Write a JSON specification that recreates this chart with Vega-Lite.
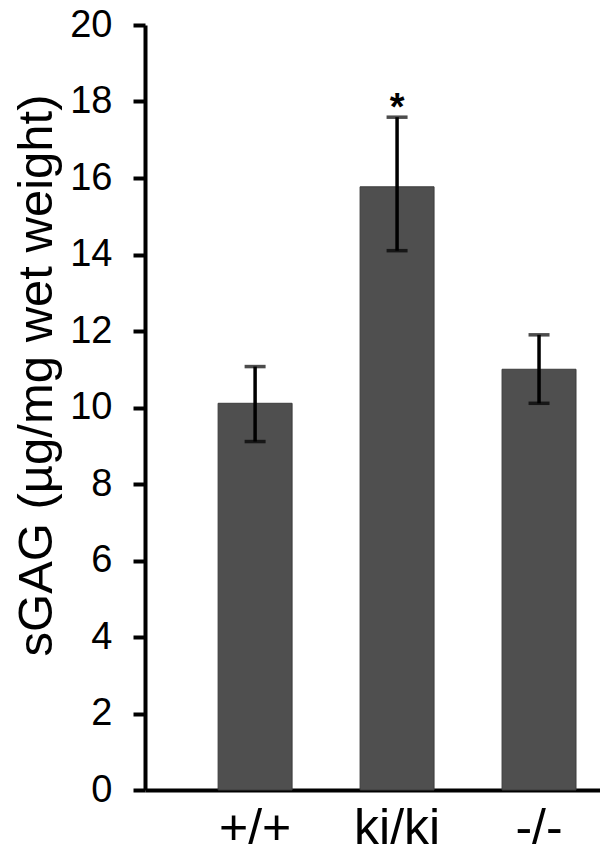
{
  "$schema": "https://vega.github.io/schema/vega-lite/v6.json",
  "autosize": {"type": "none"},
  "padding": {"left": 145, "top": 25, "right": 0, "bottom": 68},
  "width": 455,
  "height": 765,
  "background": "white",
  "config": {"view": {"stroke": null}, "font": "Liberation Sans"},
  "data": {"values": [
    {"genotype": "+/+", "mean": 10.11, "lo": 9.11, "hi": 11.07, "sig": ""},
    {"genotype": "ki/ki", "mean": 15.77, "lo": 14.10, "hi": 17.59, "sig": "*"},
    {"genotype": "-/-", "mean": 11.0, "lo": 10.11, "hi": 11.9, "sig": ""}
  ]},
  "encoding": {
    "x": {
      "field": "genotype", "type": "nominal", "sort": null,
      "scale": {"paddingInner": 0.479, "paddingOuter": 0.342, "align": 0.753},
      "axis": {"title": null, "labelAngle": 0, "labelFontSize": 50, "labelColor": "black", "labelPadding": 13, "ticks": false, "domainWidth": 4, "domainColor": "black"}
    }
  },
  "layer": [
    {
      "mark": {"type": "bar", "color": "#4f4f4f", "stroke": "#3c3c3c", "strokeWidth": 1},
      "encoding": {
        "y": {
          "field": "mean", "type": "quantitative", "title": "sGAG (µg/mg wet weight)",
          "scale": {"domain": [0, 20], "nice": false},
          "axis": {"values": [0,2,4,6,8,10,12,14,16,18,20], "grid": false,
            "domainWidth": 4, "domainColor": "black", "tickWidth": 4, "tickSize": 12, "tickColor": "black",
            "labelFontSize": 38, "labelColor": "black", "labelPadding": 21,
            "titleFontSize": 49, "titleFontWeight": "normal", "titleColor": "black",
            "titleX": -94, "titleY": 350, "titleBaseline": "alphabetic", "titleAngle": -90, "titleAlign": "center"}
        }
      }
    },
    {
      "mark": {"type": "errorbar", "color": "black", "thickness": 3.5, "ticks": {"size": 21, "thickness": 3.5}},
      "encoding": {
        "y": {"field": "lo", "type": "quantitative", "title": "sGAG (µg/mg wet weight)"},
        "y2": {"field": "hi"}
      }
    },
    {
      "transform": [{"filter": "datum.sig != ''"}],
      "mark": {"type": "text", "fontSize": 38, "fontWeight": "bold", "baseline": "middle", "dy": -8, "color": "black"},
      "encoding": {
        "y": {"field": "hi", "type": "quantitative", "title": "sGAG (µg/mg wet weight)"},
        "text": {"field": "sig"}
      }
    }
  ]
}
